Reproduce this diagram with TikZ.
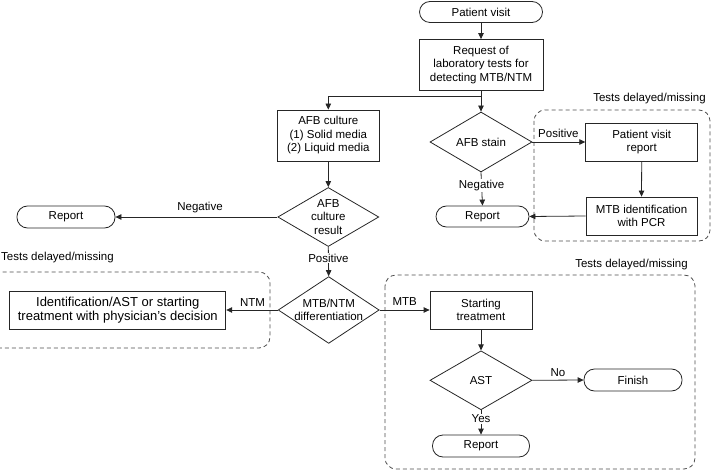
\documentclass[tikz,border=0pt]{standalone}
\usepackage{fontspec}
\setmainfont{Liberation Sans}
\usetikzlibrary{shapes.geometric,arrows.meta}
\begin{document}
\begin{tikzpicture}[x=1pt,y=-1pt,
  font=\fontsize{11.5}{13.5}\selectfont,
  every node/.style={text=black},
  ln/.style={draw=black!85,line width=0.8pt},
  arr/.style={ln,-{Triangle[length=6pt,width=5.5pt]}},
  procbox/.style={draw=black!85,line width=0.8pt,rectangle,align=center,inner sep=0pt},
  term/.style={draw=black!85,line width=0.8pt,rectangle,rounded corners=10.5pt,align=center,inner sep=0pt,minimum height=21pt},
  decis/.style={draw=black!85,line width=0.8pt,diamond,align=center,inner xsep=-6pt,inner ysep=-6pt,minimum width=101pt,minimum height=60pt},
  dashbox/.style={draw=black!70,line width=0.8pt,dash pattern=on 4pt off 3pt,rounded corners=11pt},
  lbl/.style={inner sep=1pt},
  wlbl/.style={inner sep=1pt,fill=white}]
\useasboundingbox (0,0) rectangle (711,470);

% dashed groups
\draw[dashbox] (534,110) rectangle (710,241);
\draw[dashbox] (-12,272) rectangle (270,348);
\draw[dashbox] (385,275) rectangle (695,469);
\node[lbl,anchor=east] (tdm1) at (707,99) {Tests delayed/missing};
\node[lbl,anchor=west] (tdm2) at (0,257.5) {Tests delayed/missing};
\node[lbl,anchor=east] (tdm3) at (689,265) {Tests delayed/missing};

% nodes
\node[term,minimum width=123pt] (pv) at (481,12) {Patient visit};
\node[procbox,minimum width=124pt,minimum height=51pt] (req) at (481,65) {Request of\\laboratory tests for\\detecting MTB/NTM};
\node[decis,minimum width=102pt] (stain) at (481,142) {AFB stain};
\node[procbox,minimum width=112pt,minimum height=38pt] (pvr) at (641.7,142) {Patient visit\\report};
\node[procbox,minimum width=111pt,minimum height=38pt] (mtbid) at (641.5,216) {MTB identification\\with PCR};
\node[term,minimum width=93pt] (rep1) at (482.5,216.5) {Report};

\node[procbox,minimum width=102pt,minimum height=51pt] (cult) at (328.3,135.5) {AFB culture\\(1) Solid media\\(2) Liquid media};
\node[decis,minimum height=59pt] (cres) at (328.3,217) {AFB\\culture\\result};
\node[term,minimum width=98pt,minimum height=22pt] (rep2) at (66,217) {Report};

\node[decis] (diff) at (328.7,310) {MTB/NTM\\differentiation};
\node[procbox,minimum width=216pt,minimum height=38pt,font=\fontsize{13}{14.5}\selectfont] (ident) at (117.8,310) {Identification/AST or starting\\treatment with physician's decision};
\node[procbox,minimum width=102pt,minimum height=38pt] (start) at (481,310) {Starting\\treatment};
\node[decis,minimum width=102pt,minimum height=59pt] (ast) at (481,380.3) {AST};
\node[term,minimum width=98pt,minimum height=22pt] (finish) at (633,380) {Finish};
\node[term,minimum width=97pt,minimum height=22pt] (rep3) at (481,446) {Report};

\coordinate (br) at (481,96);

% connectors
\draw[arr] (pv.south) -- (req.north);
\draw[arr] (req.south) -- (stain.north);
\draw[arr] (br) -| (cult.north);
\draw[arr] (stain.east) -- (pvr.west);
\node[lbl,anchor=west] (lpos1) at (537,133) {Positive};
\draw[arr] (pvr.south) -- (mtbid.north);
\draw[arr] (mtbid.west) -- (rep1.east);
\draw[arr] (stain.south) -- node[wlbl,pos=0.4] (lneg1) {Negative} (rep1.north);
\draw[arr] (cult.south) -- (cres.north);
\draw[arr] (cres.west) -- (rep2.east);
\node[lbl] (lneg2) at (200,208) {Negative};
\draw[arr] (cres.south) -- node[wlbl,pos=0.38] (lpos2) {Positive} (diff.north);
\draw[arr] (diff.west) -- (ident.east);
\node[lbl] (lntm) at (252.5,302.5) {NTM};
\draw[arr] (diff.east) -- (start.west);
\node[lbl] (lmtb) at (404.7,301.5) {MTB};
\draw[arr] (start.south) -- (ast.north);
\draw[arr] (ast.east) -- (finish.west);
\node[lbl] (lno) at (558,372.5) {No};
\draw[arr] (ast.south) -- node[wlbl,pos=0.36] (lyes) {Yes} (rep3.north);
\end{tikzpicture}
\end{document}
